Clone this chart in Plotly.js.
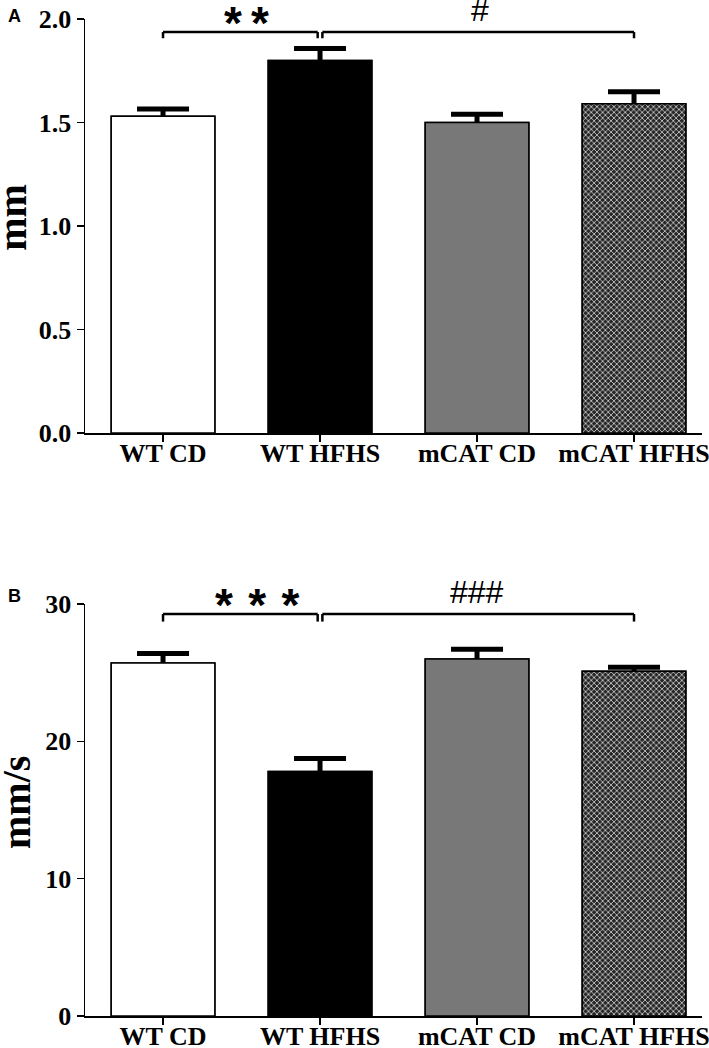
<!DOCTYPE html>
<html>
<head>
<meta charset="utf-8">
<script src="https://cdn.plot.ly/plotly-3.0.1.min.js"></script>
<style>
  html, body { margin: 0; padding: 0; background: #ffffff; }
  #chart { width: 709px; height: 1048px; }
</style>
</head>
<body>
<div id="chart"></div>
<script>
// ---------- data ----------
const categories = ['WT CD', 'WT HFHS', 'mCAT CD', 'mCAT HFHS'];

// Panel A (mm)
const thicknessMean = [1.53, 1.80, 1.50, 1.59];
const thicknessSEM  = [0.035, 0.058, 0.040, 0.058];

// Panel B (mm/s)
const velocityMean = [25.7, 17.8, 26.0, 25.1];
const velocitySEM  = [0.70, 0.95, 0.70, 0.30];

// Tick labels
const yTicksA = [0, 0.5, 1.0, 1.5, 2.0];
const yTickTextA = ['0.0', '0.5', '1.0', '1.5', '2.0'];
const yTicksB = [0, 10, 20, 30];
const yTickTextB = ['0', '10', '20', '30'];

// Significance comparisons (category index from/to, bracket level, label)
const compA = [
  {from: 0, to: 0.985, level: 1.937, drop: 0.03, label: '*\u2009*', lx: 0.53},
  {from: 1.015, to: 3, level: 1.937, drop: 0.03, label: '#', lx: 2.02}
];
const compB = [
  {from: 0, to: 0.985, level: 29.27, drop: 0.55, label: '*\u2004*\u2004*', lx: 0.60},
  {from: 1.015, to: 3, level: 29.27, drop: 0.55, label: '###', lx: 2.00}
];

// ---------- styles ----------
const barFill = ['#ffffff', '#000000', '#787878', '#262626'];
const barPattern = ['', '', '', 'x'];
const W = 709, H = 1048;
const mL = 85, mR = 7;
function serifFont(size) {
  return {family: 'Liberation Serif, "Times New Roman", serif', size: size, color: '#000', weight: 'bold'};
}

function barMarker() {
  return {
    color: barFill,
    line: {color: '#000', width: 1.5},
    pattern: {shape: barPattern, fgcolor: '#9a9a9a', fgopacity: 1, size: 4, solidity: 0.3, fillmode: 'overlay'}
  };
}

function panelTraces(means, sems, xa, ya) {
  return [
    {
      type: 'bar', x: categories, y: means, xaxis: xa, yaxis: ya, width: 0.66,
      marker: barMarker(),
      error_y: {type: 'data', array: sems, symmetric: true, color: '#000', thickness: 5, width: 26},
      hoverinfo: 'skip', showlegend: false
    },
    {
      type: 'bar', x: categories, y: means, xaxis: xa, yaxis: ya, width: 0.66,
      marker: barMarker(),
      hoverinfo: 'skip', showlegend: false
    }
  ];
}

const data = [
  ...panelTraces(thicknessMean, thicknessSEM, 'x', 'y'),
  ...panelTraces(velocityMean, velocitySEM, 'x2', 'y2')
];

function px2paperY(py) { return (H - py) / H; }

const xCommon = {
  type: 'category', range: [-0.497, 3.433], showline: true, linecolor: '#000', linewidth: 1.5,
  ticks: 'outside', ticklen: 7, tickwidth: 1.5, tickcolor: '#000', ticklabelstandoff: -11,
  tickfont: serifFont(26), showgrid: false, zeroline: false, fixedrange: true, automargin: false
};
const yCommon = {
  showline: true, linecolor: '#000', linewidth: 1.5,
  ticks: 'outside', ticklen: 7, tickwidth: 1.5, tickcolor: '#000',
  tickfont: serifFont(26), showgrid: false, zeroline: false, fixedrange: true, automargin: false
};

const shapes = [];
const annotations = [];
function addComparisons(comps, xref, yref) {
  comps.forEach(c => {
    const line = {color: '#000', width: 2.5};
    shapes.push({type: 'line', xref, yref, x0: c.from, x1: c.to, y0: c.level, y1: c.level, line});
    shapes.push({type: 'line', xref, yref, x0: c.from, x1: c.from, y0: c.level, y1: c.level - c.drop, line});
    shapes.push({type: 'line', xref, yref, x0: c.to, x1: c.to, y0: c.level, y1: c.level - c.drop, line});
    const isStar = c.label.indexOf('*') >= 0;
    annotations.push({
      xref, yref, x: c.lx, y: c.level, text: c.label, showarrow: false,
      xanchor: 'center', yanchor: 'bottom', yshift: isStar ? -19 : 2,
      font: isStar
        ? {family: 'Liberation Sans, Arial, sans-serif', size: 46, color: '#000', weight: 'bold'}
        : {family: 'Liberation Sans, Arial, sans-serif', size: 32, color: '#000'}
    });
  });
}
addComparisons(compA, 'x', 'y');
addComparisons(compB, 'x2', 'y2');

// Axis titles & panel letters
annotations.push({xref: 'paper', yref: 'y domain', x: (13 - mL) / (W - mL - mR), y: 0.52,
  text: 'mm', textangle: -90, showarrow: false, xanchor: 'center', yanchor: 'middle',
  font: serifFont(40)});
annotations.push({xref: 'paper', yref: 'y2 domain', x: (17 - mL) / (W - mL - mR), y: 0.517,
  text: 'mm/s', textangle: -90, showarrow: false, xanchor: 'center', yanchor: 'middle',
  font: serifFont(40)});
annotations.push({xref: 'paper', yref: 'paper', x: (14 - mL) / (W - mL - mR), y: px2paperY(16),
  text: 'A', showarrow: false, xanchor: 'center', yanchor: 'middle',
  font: {family: 'Liberation Sans, Arial, sans-serif', size: 18, color: '#000', weight: 'bold'}});
annotations.push({xref: 'paper', yref: 'paper', x: (14 - mL) / (W - mL - mR), y: px2paperY(596),
  text: 'B', showarrow: false, xanchor: 'center', yanchor: 'middle',
  font: {family: 'Liberation Sans, Arial, sans-serif', size: 18, color: '#000', weight: 'bold'}});

const layout = {
  width: W, height: H,
  margin: {l: mL, r: mR, t: 0, b: 0, pad: 0},
  paper_bgcolor: '#fff', plot_bgcolor: '#fff',
  barmode: 'overlay', showlegend: false,
  xaxis: Object.assign({}, xCommon, {anchor: 'y', domain: [0, 1]}),
  yaxis: Object.assign({}, yCommon, {anchor: 'x', domain: [px2paperY(433), px2paperY(19)], range: [0, 2],
    tickvals: yTicksA, ticktext: yTickTextA}),
  xaxis2: Object.assign({}, xCommon, {anchor: 'y2', domain: [0, 1]}),
  yaxis2: Object.assign({}, yCommon, {anchor: 'x2', domain: [px2paperY(1016), px2paperY(604)], range: [0, 30],
    tickvals: yTicksB, ticktext: yTickTextB}),
  shapes, annotations
};

Plotly.newPlot('chart', data, layout, {displayModeBar: false, staticPlot: true});
</script>
</body>
</html>
